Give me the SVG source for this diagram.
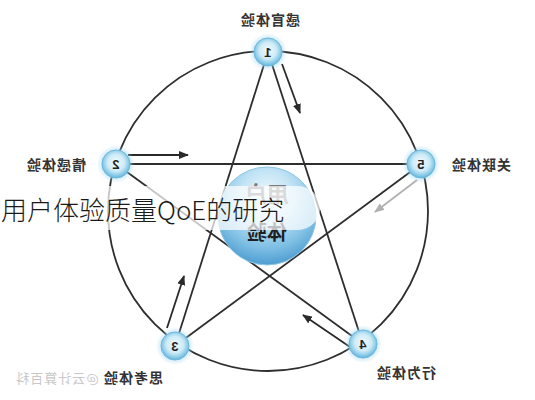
<svg xmlns="http://www.w3.org/2000/svg" width="535" height="400" viewBox="0 0 535 400">
<defs>
<radialGradient id="nodeGrad" cx="50%" cy="45%" r="55%">
<stop offset="0" stop-color="#f4fbfe"/>
<stop offset="0.55" stop-color="#cdebf7"/>
<stop offset="0.85" stop-color="#86c8e6"/>
<stop offset="1" stop-color="#5fb2da"/>
</radialGradient>
<radialGradient id="glow" cx="50%" cy="50%" r="50%">
<stop offset="0.6" stop-color="#9fd6ef" stop-opacity="0.7"/>
<stop offset="1" stop-color="#9fd6ef" stop-opacity="0"/>
</radialGradient>
<radialGradient id="sphereGrad" cx="50%" cy="30%" r="75%">
<stop offset="0" stop-color="#f2fafe"/>
<stop offset="0.35" stop-color="#c3e4f5"/>
<stop offset="0.7" stop-color="#7fbfe4"/>
<stop offset="1" stop-color="#3f93cc"/>
</radialGradient>
<marker id="ahDark" viewBox="0 0 10 8" refX="9" refY="4" markerWidth="10" markerHeight="8" markerUnits="userSpaceOnUse" orient="auto">
<path d="M0,0 L10,4 L0,8 z" fill="#2a2a2a"/>
</marker>
<marker id="ahGray" viewBox="0 0 10 8" refX="9" refY="4" markerWidth="10" markerHeight="8" markerUnits="userSpaceOnUse" orient="auto">
<path d="M0,0 L10,4 L0,8 z" fill="#b0b0b0"/>
</marker>
</defs>
<style>
.edge{stroke:#2e2e2e;stroke-width:1.8;fill:none}
.arrow{stroke:#2a2a2a;stroke-width:1.8;fill:none;marker-end:url(#ahDark)}
.arrowGray{stroke:#b0b0b0;stroke-width:1.8;fill:none;marker-end:url(#ahGray)}
.node{fill:url(#nodeGrad);stroke:#6db9de;stroke-width:1}
.halo{fill:url(#glow)}
.num{font-family:"Liberation Sans",Arial,sans-serif;font-weight:bold;font-size:13px;fill:#222;text-anchor:middle}
.label{font-family:"Noto Sans CJK SC","Liberation Sans",sans-serif;font-weight:bold;font-size:14px;fill:#333;text-anchor:middle;letter-spacing:1px}
</style>
<rect width="535" height="400" fill="#ffffff"/>

<g id="connectors">
<circle class="edge" cx="268" cy="211" r="160" stroke-width="1.6"/>
<line class="edge" x1="268" y1="52" x2="175" y2="346"/>
<line class="edge" x1="268" y1="52" x2="363" y2="344"/>
<line class="edge" x1="116" y1="164" x2="421" y2="164"/>
<line class="edge" x1="116" y1="164" x2="363" y2="344"/>
<line class="edge" x1="421" y1="164" x2="175" y2="346"/>
<line class="arrow" x1="282" y1="64" x2="300" y2="113"/>
<line class="arrow" x1="128" y1="155" x2="188" y2="155"/>
<line class="arrowGray" x1="417" y1="180" x2="375" y2="212"/>
<line class="arrow" x1="167" y1="328" x2="184" y2="276"/>
<line class="arrow" x1="350" y1="347" x2="303" y2="315"/>
</g>

<g id="center">
<circle cx="267" cy="216" r="49" fill="url(#sphereGrad)" stroke="#8cc6e6" stroke-width="1"/>
<text transform="translate(267,202) scale(-1,1)" font-family="Noto Sans CJK SC,sans-serif" font-weight="bold" font-size="22" fill="#7a7a7a" text-anchor="middle">用户</text>
<text transform="translate(267,240) scale(-1,1)" font-family="Noto Sans CJK SC,sans-serif" font-weight="bold" font-size="20" fill="#1e1e1e" text-anchor="middle">体验</text>
</g>

<g id="node1">
<circle class="halo" cx="268" cy="52" r="19"/>
<circle class="node" cx="268" cy="52" r="14"/>
<text class="num" transform="translate(268,57) scale(-1,1)">1</text>
<text class="label" transform="translate(270,25) scale(-1,1)">感官体验</text>
</g>
<g id="node2">
<circle class="halo" cx="116" cy="164" r="19"/>
<circle class="node" cx="116" cy="164" r="14"/>
<text class="num" transform="translate(116,169) scale(-1,1)">2</text>
<text class="label" transform="translate(56,170) scale(-1,1)">情感体验</text>
</g>
<g id="node5">
<circle class="halo" cx="421" cy="164" r="19"/>
<circle class="node" cx="421" cy="164" r="14"/>
<text class="num" transform="translate(421,169) scale(-1,1)">5</text>
<text class="label" transform="translate(481,170) scale(-1,1)">关联体验</text>
</g>
<g id="node3">
<circle class="halo" cx="175" cy="346" r="19"/>
<circle class="node" cx="175" cy="346" r="14"/>
<text class="num" transform="translate(175,351) scale(-1,1)">3</text>
<text transform="translate(57,383) scale(-1,1)" font-family="Noto Sans CJK SC,sans-serif" font-size="13" fill="#c8c8c8" text-anchor="middle" letter-spacing="1">@云计算百科</text>
<text class="label" transform="translate(133,383) scale(-1,1)">思考体验</text>
</g>
<g id="node4">
<circle class="halo" cx="363" cy="344" r="19"/>
<circle class="node" cx="363" cy="344" r="14"/>
<text class="num" transform="translate(363,349) scale(-1,1)">4</text>
<text class="label" transform="translate(406,378) scale(-1,1)">行为体验</text>
</g>

<g id="title">
<rect x="-30" y="186" width="350" height="44" rx="22" fill="#ffffff" fill-opacity="0.72"/>
<text x="1" y="220" font-family="Noto Sans CJK SC,sans-serif" font-size="26" font-weight="300" fill="#1a1a1a">用户体验质量QoE的研究</text>
</g>
</svg>
